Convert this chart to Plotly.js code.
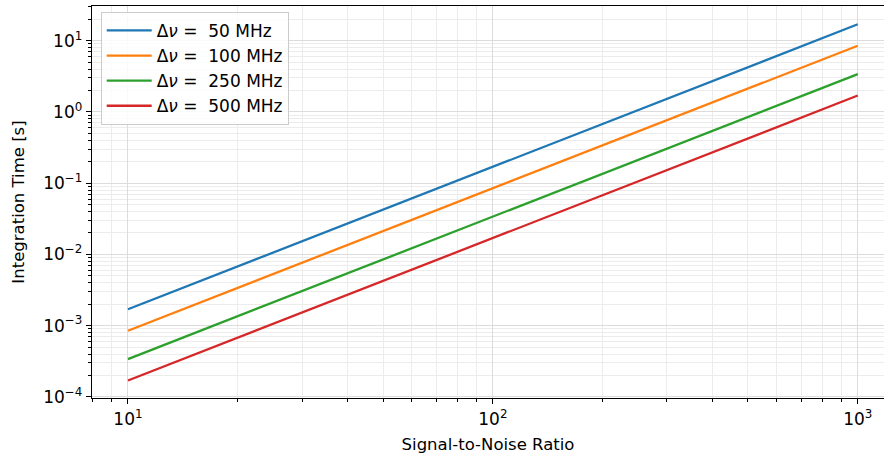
<!DOCTYPE html>
<html>
<head>
<meta charset="utf-8">
<script src="https://cdn.plot.ly/plotly-3.0.1.min.js"></script>
<style>html,body{margin:0;padding:0;background:#fff;}#chart{width:884px;height:458px;}</style>
</head>
<body>
<div id="chart"></div>
<script>
// Data
const snr = [10, 20, 50, 100, 200, 500, 1000];
const t50  = [1.7e-3, 6.8e-3, 4.25e-2, 0.17, 0.68, 4.25, 17];
const t100 = [8.5e-4, 3.4e-3, 2.1e-2, 0.085, 0.34, 2.1, 8.5];
const t250 = [3.4e-4, 1.36e-3, 8.5e-3, 0.034, 0.136, 0.85, 3.4];
const t500 = [1.7e-4, 6.8e-4, 4.25e-3, 0.017, 0.068, 0.425, 1.7];
const seriesNames = ['Δ<i>ν</i> =\u00a0\u00a050 MHz', 'Δ<i>ν</i> =\u00a0\u00a0100 MHz', 'Δ<i>ν</i> =\u00a0\u00a0250 MHz', 'Δ<i>ν</i> =\u00a0\u00a0500 MHz'];
const seriesColors = ['#1f77b4', '#ff7f0e', '#2ca02c', '#d62728'];
const xTickVals = [10, 100, 1000];
const xTickText = ['10<sup>1</sup>', '10<sup>2</sup>', '10<sup>3</sup>'];
const yTickVals = [1e-4, 1e-3, 1e-2, 1e-1, 1, 10];
const yTickText = ['10<sup>−4</sup>', '10<sup>−3</sup>', '10<sup>−2</sup>', '10<sup>−1</sup>', '10<sup>0</sup>', '10<sup>1</sup>'];

function minorVals(lo, hi) {
  const out = [];
  for (let e = lo; e <= hi; e++) {
    for (let m = 2; m <= 9; m++) out.push(m * Math.pow(10, e));
  }
  return out;
}

const ys = [t50, t100, t250, t500];
const traces = ys.map((y, i) => ({
  x: snr, y: y, type: 'scatter', mode: 'lines',
  name: seriesNames[i],
  line: {color: seriesColors[i], width: 2.3}
}));

const font = {family: 'DejaVu Sans, sans-serif', size: 16.5, color: '#000'};
const axisCommon = {
  type: 'log',
  tickmode: 'array',
  showline: true, linecolor: '#000', linewidth: 1.3,
  ticks: 'outside', ticklen: 5, tickwidth: 1, tickcolor: '#000',
  showgrid: true, gridcolor: '#dcdcdc', gridwidth: 1,
  zeroline: false,
  tickfont: {family: 'DejaVu Sans, sans-serif', size: 17, color: '#000'}
};

const layout = {
  width: 884, height: 458,
  margin: {l: 92, r: 0, t: 6, b: 60},
  paper_bgcolor: '#fff', plot_bgcolor: '#fff',
  font: font,
  showlegend: true,
  legend: {
    x: 0.011, y: 0.985, xanchor: 'left', yanchor: 'top',
    bgcolor: 'rgba(255,255,255,0.85)', bordercolor: '#cccccc', borderwidth: 1,
    font: {family: 'DejaVu Sans, sans-serif', size: 17, color: '#000'},
    tracegroupgap: 0, itemwidth: 45
  },
  xaxis: Object.assign({}, axisCommon, {
    range: [Math.log10(7.97), Math.log10(1180)],
    tickvals: xTickVals, ticktext: xTickText,
    mirror: true,
    minor: {tickmode: 'array', tickvals: minorVals(0, 3), ticks: 'outside', ticklen: 3, tickcolor: '#000', showgrid: true, gridcolor: '#ececec', gridwidth: 1},
    title: {text: 'Signal-to-Noise Ratio', font: font, standoff: 10}
  }),
  yaxis: Object.assign({}, axisCommon, {
    range: [-4.015, 1.487],
    tickvals: yTickVals, ticktext: yTickText,
    minor: {tickmode: 'array', tickvals: minorVals(-5, 1), ticks: 'outside', ticklen: 3, tickcolor: '#000', showgrid: true, gridcolor: '#ececec', gridwidth: 1},
    title: {text: 'Integration Time [s]', font: font, standoff: 14}
  })
};

Plotly.newPlot('chart', traces, layout, {displayModeBar: false, staticPlot: true});
</script>
</body>
</html>
